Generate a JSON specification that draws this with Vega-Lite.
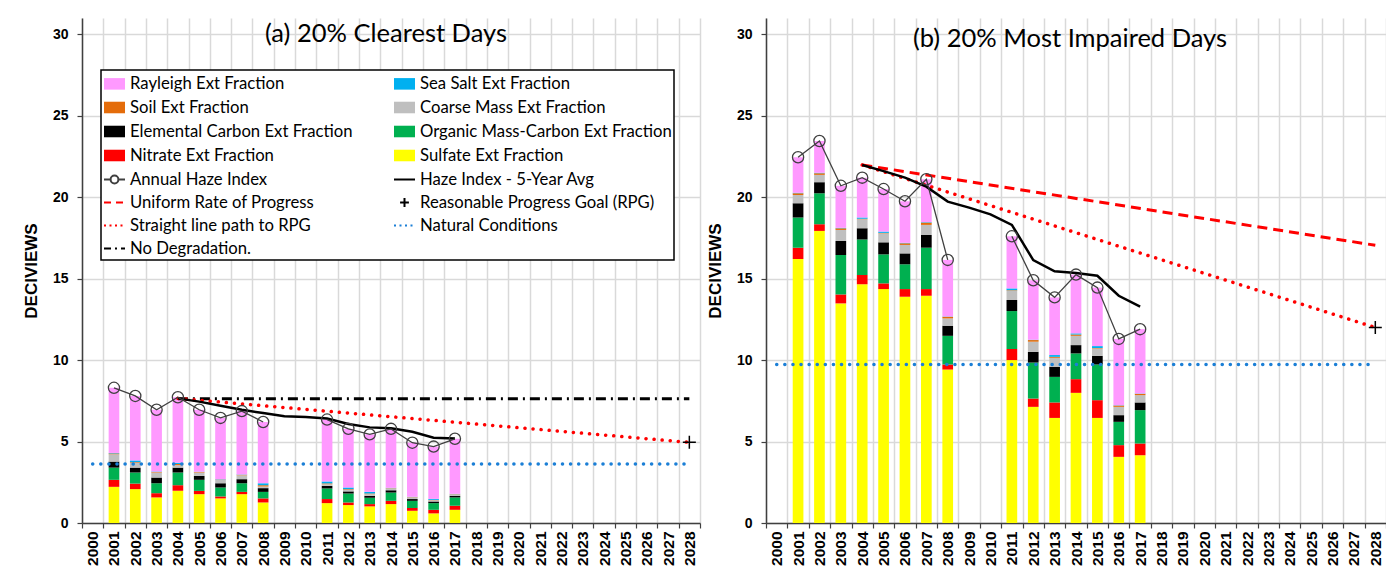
{
  "$schema": "https://vega.github.io/schema/vega-lite/v6.json",
  "padding": {"left": 22, "top": 18, "right": 0, "bottom": 0},
  "background": "white",
  "spacing": 5,
  "config": {
    "view": {"stroke": null},
    "legend": {"strokeWidth": 1.5},
    "title": {"font": "Lato", "fontSize": 25.5, "fontWeight": "normal", "color": "black", "anchor": "middle", "frame": "group"},
    "axisX": {"tickBand": "extent", "grid": true, "gridColor": "#D9D9D9", "gridWidth": 1.5, "labelAngle": -90, "labelFont": "Liberation Sans", "labelFontWeight": "bold", "labelFontSize": 15.5, "labelColor": "#000000", "labelPadding": 3, "labelOverlap": false, "labelBound": false, "tickSize": 5, "tickColor": "#404040", "tickWidth": 1.2, "domainColor": "#404040", "domainWidth": 1.5},
    "axisY": {"grid": true, "gridColor": "#D9D9D9", "gridWidth": 1.5, "labelFont": "Liberation Sans", "labelFontWeight": "bold", "labelFontSize": 14, "labelColor": "#000000", "labelPadding": 9, "tickSize": 5, "tickColor": "#404040", "tickWidth": 1.2, "domainColor": "#404040", "domainWidth": 1.5, "titleFont": "Liberation Sans", "titleFontSize": 17, "titleFontWeight": "bold", "titleColor": "#000000", "titlePadding": 12}
  },
  "datasets": {
    "bars_a": [
      {"year": "2001", "Sulfate Ext Fraction": 2.22, "Nitrate Ext Fraction": 0.43, "Organic Mass-Carbon Ext Fraction": 0.75, "Elemental Carbon Ext Fraction": 0.37, "Coarse Mass Ext Fraction": 0.45, "Soil Ext Fraction": 0.05, "Sea Salt Ext Fraction": 0.03, "Rayleigh Ext Fraction": 4.0},
      {"year": "2002", "Sulfate Ext Fraction": 2.08, "Nitrate Ext Fraction": 0.34, "Organic Mass-Carbon Ext Fraction": 0.68, "Elemental Carbon Ext Fraction": 0.30, "Coarse Mass Ext Fraction": 0.30, "Soil Ext Fraction": 0.04, "Sea Salt Ext Fraction": 0.10, "Rayleigh Ext Fraction": 3.96},
      {"year": "2003", "Sulfate Ext Fraction": 1.57, "Nitrate Ext Fraction": 0.26, "Organic Mass-Carbon Ext Fraction": 0.61, "Elemental Carbon Ext Fraction": 0.35, "Coarse Mass Ext Fraction": 0.31, "Soil Ext Fraction": 0.03, "Sea Salt Ext Fraction": 0.03, "Rayleigh Ext Fraction": 3.79},
      {"year": "2004", "Sulfate Ext Fraction": 1.98, "Nitrate Ext Fraction": 0.34, "Organic Mass-Carbon Ext Fraction": 0.78, "Elemental Carbon Ext Fraction": 0.30, "Coarse Mass Ext Fraction": 0.15, "Soil Ext Fraction": 0.07, "Sea Salt Ext Fraction": 0.08, "Rayleigh Ext Fraction": 4.02},
      {"year": "2005", "Sulfate Ext Fraction": 1.77, "Nitrate Ext Fraction": 0.20, "Organic Mass-Carbon Ext Fraction": 0.68, "Elemental Carbon Ext Fraction": 0.24, "Coarse Mass Ext Fraction": 0.21, "Soil Ext Fraction": 0.03, "Sea Salt Ext Fraction": 0.02, "Rayleigh Ext Fraction": 3.80},
      {"year": "2006", "Sulfate Ext Fraction": 1.51, "Nitrate Ext Fraction": 0.12, "Organic Mass-Carbon Ext Fraction": 0.55, "Elemental Carbon Ext Fraction": 0.26, "Coarse Mass Ext Fraction": 0.21, "Soil Ext Fraction": 0.02, "Sea Salt Ext Fraction": 0.02, "Rayleigh Ext Fraction": 3.76},
      {"year": "2007", "Sulfate Ext Fraction": 1.77, "Nitrate Ext Fraction": 0.14, "Organic Mass-Carbon Ext Fraction": 0.53, "Elemental Carbon Ext Fraction": 0.25, "Coarse Mass Ext Fraction": 0.24, "Soil Ext Fraction": 0.03, "Sea Salt Ext Fraction": 0.02, "Rayleigh Ext Fraction": 3.89},
      {"year": "2008", "Sulfate Ext Fraction": 1.26, "Nitrate Ext Fraction": 0.25, "Organic Mass-Carbon Ext Fraction": 0.40, "Elemental Carbon Ext Fraction": 0.23, "Coarse Mass Ext Fraction": 0.10, "Soil Ext Fraction": 0.08, "Sea Salt Ext Fraction": 0.12, "Rayleigh Ext Fraction": 3.76},
      {"year": "2011", "Sulfate Ext Fraction": 1.22, "Nitrate Ext Fraction": 0.25, "Organic Mass-Carbon Ext Fraction": 0.65, "Elemental Carbon Ext Fraction": 0.16, "Coarse Mass Ext Fraction": 0.10, "Soil Ext Fraction": 0.05, "Sea Salt Ext Fraction": 0.12, "Rayleigh Ext Fraction": 3.80},
      {"year": "2012", "Sulfate Ext Fraction": 1.10, "Nitrate Ext Fraction": 0.16, "Organic Mass-Carbon Ext Fraction": 0.55, "Elemental Carbon Ext Fraction": 0.13, "Coarse Mass Ext Fraction": 0.10, "Soil Ext Fraction": 0.04, "Sea Salt Ext Fraction": 0.10, "Rayleigh Ext Fraction": 3.60},
      {"year": "2013", "Sulfate Ext Fraction": 1.02, "Nitrate Ext Fraction": 0.14, "Organic Mass-Carbon Ext Fraction": 0.39, "Elemental Carbon Ext Fraction": 0.12, "Coarse Mass Ext Fraction": 0.10, "Soil Ext Fraction": 0.04, "Sea Salt Ext Fraction": 0.10, "Rayleigh Ext Fraction": 3.53},
      {"year": "2014", "Sulfate Ext Fraction": 1.16, "Nitrate Ext Fraction": 0.20, "Organic Mass-Carbon Ext Fraction": 0.51, "Elemental Carbon Ext Fraction": 0.14, "Coarse Mass Ext Fraction": 0.11, "Soil Ext Fraction": 0.02, "Sea Salt Ext Fraction": 0.02, "Rayleigh Ext Fraction": 3.62},
      {"year": "2015", "Sulfate Ext Fraction": 0.75, "Nitrate Ext Fraction": 0.17, "Organic Mass-Carbon Ext Fraction": 0.44, "Elemental Carbon Ext Fraction": 0.11, "Coarse Mass Ext Fraction": 0.10, "Soil Ext Fraction": 0.02, "Sea Salt Ext Fraction": 0.02, "Rayleigh Ext Fraction": 3.32},
      {"year": "2016", "Sulfate Ext Fraction": 0.59, "Nitrate Ext Fraction": 0.22, "Organic Mass-Carbon Ext Fraction": 0.41, "Elemental Carbon Ext Fraction": 0.10, "Coarse Mass Ext Fraction": 0.08, "Soil Ext Fraction": 0.02, "Sea Salt Ext Fraction": 0.06, "Rayleigh Ext Fraction": 3.21},
      {"year": "2017", "Sulfate Ext Fraction": 0.81, "Nitrate Ext Fraction": 0.25, "Organic Mass-Carbon Ext Fraction": 0.51, "Elemental Carbon Ext Fraction": 0.10, "Coarse Mass Ext Fraction": 0.08, "Soil Ext Fraction": 0.02, "Sea Salt Ext Fraction": 0.02, "Rayleigh Ext Fraction": 3.38}
    ],
    "bars_b": [
      {"year": "2001", "Sulfate Ext Fraction": 16.2, "Nitrate Ext Fraction": 0.70, "Organic Mass-Carbon Ext Fraction": 1.85, "Elemental Carbon Ext Fraction": 0.88, "Coarse Mass Ext Fraction": 0.51, "Soil Ext Fraction": 0.10, "Sea Salt Ext Fraction": 0.03, "Rayleigh Ext Fraction": 2.18},
      {"year": "2002", "Sulfate Ext Fraction": 17.93, "Nitrate Ext Fraction": 0.41, "Organic Mass-Carbon Ext Fraction": 1.90, "Elemental Carbon Ext Fraction": 0.68, "Coarse Mass Ext Fraction": 0.45, "Soil Ext Fraction": 0.10, "Sea Salt Ext Fraction": 0.03, "Rayleigh Ext Fraction": 1.95},
      {"year": "2003", "Sulfate Ext Fraction": 13.48, "Nitrate Ext Fraction": 0.55, "Organic Mass-Carbon Ext Fraction": 2.42, "Elemental Carbon Ext Fraction": 0.86, "Coarse Mass Ext Fraction": 0.68, "Soil Ext Fraction": 0.10, "Sea Salt Ext Fraction": 0.03, "Rayleigh Ext Fraction": 2.58},
      {"year": "2004", "Sulfate Ext Fraction": 14.65, "Nitrate Ext Fraction": 0.57, "Organic Mass-Carbon Ext Fraction": 2.19, "Elemental Carbon Ext Fraction": 0.68, "Coarse Mass Ext Fraction": 0.55, "Soil Ext Fraction": 0.04, "Sea Salt Ext Fraction": 0.07, "Rayleigh Ext Fraction": 2.45},
      {"year": "2005", "Sulfate Ext Fraction": 14.36, "Nitrate Ext Fraction": 0.35, "Organic Mass-Carbon Ext Fraction": 1.78, "Elemental Carbon Ext Fraction": 0.74, "Coarse Mass Ext Fraction": 0.55, "Soil Ext Fraction": 0.03, "Sea Salt Ext Fraction": 0.08, "Rayleigh Ext Fraction": 2.61},
      {"year": "2006", "Sulfate Ext Fraction": 13.89, "Nitrate Ext Fraction": 0.47, "Organic Mass-Carbon Ext Fraction": 1.52, "Elemental Carbon Ext Fraction": 0.67, "Coarse Mass Ext Fraction": 0.52, "Soil Ext Fraction": 0.10, "Sea Salt Ext Fraction": 0.03, "Rayleigh Ext Fraction": 2.55},
      {"year": "2007", "Sulfate Ext Fraction": 13.95, "Nitrate Ext Fraction": 0.41, "Organic Mass-Carbon Ext Fraction": 2.54, "Elemental Carbon Ext Fraction": 0.78, "Coarse Mass Ext Fraction": 0.62, "Soil Ext Fraction": 0.14, "Sea Salt Ext Fraction": 0.03, "Rayleigh Ext Fraction": 2.63},
      {"year": "2008", "Sulfate Ext Fraction": 9.42, "Nitrate Ext Fraction": 0.31, "Organic Mass-Carbon Ext Fraction": 1.76, "Elemental Carbon Ext Fraction": 0.62, "Coarse Mass Ext Fraction": 0.45, "Soil Ext Fraction": 0.10, "Sea Salt Ext Fraction": 0.02, "Rayleigh Ext Fraction": 3.47},
      {"year": "2011", "Sulfate Ext Fraction": 10.0, "Nitrate Ext Fraction": 0.68, "Organic Mass-Carbon Ext Fraction": 2.33, "Elemental Carbon Ext Fraction": 0.68, "Coarse Mass Ext Fraction": 0.57, "Soil Ext Fraction": 0.03, "Sea Salt Ext Fraction": 0.11, "Rayleigh Ext Fraction": 3.20},
      {"year": "2012", "Sulfate Ext Fraction": 7.13, "Nitrate Ext Fraction": 0.51, "Organic Mass-Carbon Ext Fraction": 2.21, "Elemental Carbon Ext Fraction": 0.66, "Coarse Mass Ext Fraction": 0.62, "Soil Ext Fraction": 0.10, "Sea Salt Ext Fraction": 0.02, "Rayleigh Ext Fraction": 3.65},
      {"year": "2013", "Sulfate Ext Fraction": 6.45, "Nitrate Ext Fraction": 0.95, "Organic Mass-Carbon Ext Fraction": 1.57, "Elemental Carbon Ext Fraction": 0.62, "Coarse Mass Ext Fraction": 0.55, "Soil Ext Fraction": 0.06, "Sea Salt Ext Fraction": 0.11, "Rayleigh Ext Fraction": 3.54},
      {"year": "2014", "Sulfate Ext Fraction": 7.99, "Nitrate Ext Fraction": 0.84, "Organic Mass-Carbon Ext Fraction": 1.58, "Elemental Carbon Ext Fraction": 0.51, "Coarse Mass Ext Fraction": 0.57, "Soil Ext Fraction": 0.08, "Sea Salt Ext Fraction": 0.07, "Rayleigh Ext Fraction": 3.61},
      {"year": "2015", "Sulfate Ext Fraction": 6.45, "Nitrate Ext Fraction": 1.09, "Organic Mass-Carbon Ext Fraction": 2.19, "Elemental Carbon Ext Fraction": 0.53, "Coarse Mass Ext Fraction": 0.45, "Soil Ext Fraction": 0.03, "Sea Salt Ext Fraction": 0.12, "Rayleigh Ext Fraction": 3.59},
      {"year": "2016", "Sulfate Ext Fraction": 4.06, "Nitrate Ext Fraction": 0.72, "Organic Mass-Carbon Ext Fraction": 1.43, "Elemental Carbon Ext Fraction": 0.41, "Coarse Mass Ext Fraction": 0.51, "Soil Ext Fraction": 0.08, "Sea Salt Ext Fraction": 0.02, "Rayleigh Ext Fraction": 4.07},
      {"year": "2017", "Sulfate Ext Fraction": 4.16, "Nitrate Ext Fraction": 0.72, "Organic Mass-Carbon Ext Fraction": 2.05, "Elemental Carbon Ext Fraction": 0.47, "Coarse Mass Ext Fraction": 0.45, "Soil Ext Fraction": 0.08, "Sea Salt Ext Fraction": 0.02, "Rayleigh Ext Fraction": 3.95}
    ],
    "haze_a": [
      {"year": "2001", "v": 8.3, "seg": 1}, {"year": "2002", "v": 7.8, "seg": 1}, {"year": "2003", "v": 6.95, "seg": 1}, {"year": "2004", "v": 7.72, "seg": 1},
      {"year": "2005", "v": 6.95, "seg": 1}, {"year": "2006", "v": 6.45, "seg": 1}, {"year": "2007", "v": 6.87, "seg": 1}, {"year": "2008", "v": 6.2, "seg": 1},
      {"year": "2011", "v": 6.35, "seg": 2}, {"year": "2012", "v": 5.78, "seg": 2}, {"year": "2013", "v": 5.44, "seg": 2}, {"year": "2014", "v": 5.78, "seg": 2},
      {"year": "2015", "v": 4.93, "seg": 2}, {"year": "2016", "v": 4.69, "seg": 2}, {"year": "2017", "v": 5.17, "seg": 2}
    ],
    "haze_b": [
      {"year": "2001", "v": 22.45, "seg": 1}, {"year": "2002", "v": 23.45, "seg": 1}, {"year": "2003", "v": 20.7, "seg": 1}, {"year": "2004", "v": 21.2, "seg": 1},
      {"year": "2005", "v": 20.5, "seg": 1}, {"year": "2006", "v": 19.75, "seg": 1}, {"year": "2007", "v": 21.1, "seg": 1}, {"year": "2008", "v": 16.15, "seg": 1},
      {"year": "2011", "v": 17.6, "seg": 2}, {"year": "2012", "v": 14.9, "seg": 2}, {"year": "2013", "v": 13.85, "seg": 2}, {"year": "2014", "v": 15.25, "seg": 2},
      {"year": "2015", "v": 14.45, "seg": 2}, {"year": "2016", "v": 11.3, "seg": 2}, {"year": "2017", "v": 11.9, "seg": 2}
    ],
    "avg_a": [
      {"year": "2004", "v": 7.65}, {"year": "2005", "v": 7.45}, {"year": "2006", "v": 7.2}, {"year": "2007", "v": 6.95}, {"year": "2008", "v": 6.75},
      {"year": "2009", "v": 6.55}, {"year": "2010", "v": 6.5}, {"year": "2011", "v": 6.42}, {"year": "2012", "v": 6.08}, {"year": "2013", "v": 5.87},
      {"year": "2014", "v": 5.82}, {"year": "2015", "v": 5.6}, {"year": "2016", "v": 5.24}, {"year": "2017", "v": 5.18}
    ],
    "avg_b": [
      {"year": "2004", "v": 21.98}, {"year": "2005", "v": 21.6}, {"year": "2006", "v": 21.2}, {"year": "2007", "v": 20.65}, {"year": "2008", "v": 19.73},
      {"year": "2009", "v": 19.36}, {"year": "2010", "v": 18.95}, {"year": "2011", "v": 18.3}, {"year": "2012", "v": 16.14}, {"year": "2013", "v": 15.45},
      {"year": "2014", "v": 15.35}, {"year": "2015", "v": 15.18}, {"year": "2016", "v": 13.95}, {"year": "2017", "v": 13.28}
    ],
    "refs_a": [
      {"s": "Straight line path to RPG", "year": "2004", "v": 7.65}, {"s": "Straight line path to RPG", "year": "2028", "v": 4.95},
      {"s": "Natural Conditions", "year": "2000", "v": 3.62}, {"s": "Natural Conditions", "year": "2028", "v": 3.62},
      {"s": "No Degradation.", "year": "2004", "v": 7.62}, {"s": "No Degradation.", "year": "2028", "v": 7.62},
      {"s": "Reasonable Progress Goal (RPG)", "year": "2028", "v": 4.95}
    ],
    "refs_b": [
      {"s": "Uniform Rate of Progress", "year": "2004", "v": 21.98}, {"s": "Uniform Rate of Progress", "year": "2028", "v": 17.05},
      {"s": "Straight line path to RPG", "year": "2004", "v": 21.98}, {"s": "Straight line path to RPG", "year": "2028", "v": 12.0},
      {"s": "Natural Conditions", "year": "2000", "v": 9.73}, {"s": "Natural Conditions", "year": "2028", "v": 9.73},
      {"s": "Reasonable Progress Goal (RPG)", "year": "2028", "v": 12.0}
    ]
  },
  "resolve": {"scale": {"color": "independent"}, "legend": {"color": "independent"}},
  "hconcat": [
    {
      "width": 618,
      "height": 505,
      "title": {"text": "(a) 20% Clearest Days", "offset": -29, "dx": -5},
      "layer": [
        {
          "data": {"name": "bars_a"},
          "transform": [{"fold": ["Sulfate Ext Fraction", "Nitrate Ext Fraction", "Organic Mass-Carbon Ext Fraction", "Elemental Carbon Ext Fraction", "Coarse Mass Ext Fraction", "Soil Ext Fraction", "Sea Salt Ext Fraction", "Rayleigh Ext Fraction"], "as": ["c", "v"]}],
          "mark": {"type": "bar", "width": {"band": 0.5}},
          "encoding": {
            "x": {"field": "year", "type": "ordinal", "title": null, "scale": {"domain": ["2000","2001","2002","2003","2004","2005","2006","2007","2008","2009","2010","2011","2012","2013","2014","2015","2016","2017","2018","2019","2020","2021","2022","2023","2024","2025","2026","2027","2028"], "paddingInner": 0, "paddingOuter": 0}},
            "y": {"field": "v", "type": "quantitative", "title": "DECIVIEWS", "scale": {"domain": [0, 31], "nice": false}, "axis": {"values": [0, 5, 10, 15, 20, 25, 30]}},
            "order": {"field": "color_c_sort_index", "type": "quantitative", "sort": "descending"},
            "color": {
              "field": "c", "type": "nominal",
              "sort": ["Rayleigh Ext Fraction", "Sea Salt Ext Fraction", "Soil Ext Fraction", "Coarse Mass Ext Fraction", "Elemental Carbon Ext Fraction", "Organic Mass-Carbon Ext Fraction", "Nitrate Ext Fraction", "Sulfate Ext Fraction", "Annual Haze Index", "Haze Index - 5-Year Avg", "Uniform Rate of Progress", "Reasonable Progress Goal (RPG)", "Straight line path to RPG", "Natural Conditions", "No Degradation."],
              "scale": {
                "domain": ["Rayleigh Ext Fraction", "Sea Salt Ext Fraction", "Soil Ext Fraction", "Coarse Mass Ext Fraction", "Elemental Carbon Ext Fraction", "Organic Mass-Carbon Ext Fraction", "Nitrate Ext Fraction", "Sulfate Ext Fraction", "Annual Haze Index", "Haze Index - 5-Year Avg", "Uniform Rate of Progress", "Reasonable Progress Goal (RPG)", "Straight line path to RPG", "Natural Conditions", "No Degradation."],
                "range": ["#FF99FF", "#00B0F0", "#E46C0A", "#BFBFBF", "#000000", "#00B050", "#FF0000", "#FFFF00", "transparent", "transparent", "transparent", "transparent", "transparent", "transparent", "transparent"]
              },
              "legend": {
                "orient": "none", "legendX": 19, "legendY": 52, "columns": 2, "direction": "horizontal", "title": null,
                "fillColor": "white", "strokeColor": "black", "padding": 2,
                "labelFont": "Lato", "labelFontSize": 16.7, "labelColor": "#000000", "labelLimit": 400, "labelOffset": 4,
                "symbolSize": 441, "rowPadding": 2, "columnPadding": 37, "symbolStrokeWidth": 2,
                "symbolType": {"expr": "datum.value === 'Annual Haze Index' ? 'M-1,0H-0.37M0.37,0H1M0.37,0A0.37,0.37 0 1,1 -0.37,0A0.37,0.37 0 1,1 0.37,0' : datum.value === 'Reasonable Progress Goal (RPG)' ? 'M0,-0.42V0.42M-0.42,0H0.42' : indexof(datum.value, 'Fraction') >= 0 ? 'M-1,-0.55H1V0.55H-1Z' : 'M-1,0H1'"},
                "symbolStrokeColor": {"expr": "indexof(datum.value, 'Fraction') >= 0 ? 'transparent' : datum.value === 'Natural Conditions' ? '#1B7FD6' : (datum.value === 'Uniform Rate of Progress' || datum.value === 'Straight line path to RPG') ? '#FF0000' : datum.value === 'Annual Haze Index' ? '#404040' : '#000000'"},
                "symbolDash": {"expr": "datum.value === 'Uniform Rate of Progress' ? [7, 5] : (datum.value === 'Straight line path to RPG' || datum.value === 'Natural Conditions') ? [2, 3.5] : datum.value === 'No Degradation.' ? [7, 4, 2, 4] : []"}
              }
            }
          }
        },
        {
          "data": {"name": "refs_a"},
          "transform": [{"filter": "datum.s === 'Natural Conditions'"}],
          "mark": {"type": "line", "color": "#1B7FD6", "strokeWidth": 3.5, "strokeDash": [0.1, 8], "strokeCap": "round"},
          "encoding": {"x": {"field": "year", "type": "ordinal", "title": null}, "y": {"field": "v", "type": "quantitative", "title": "DECIVIEWS"}}
        },
        {
          "data": {"name": "refs_a"},
          "transform": [{"filter": "datum.s === 'No Degradation.'"}],
          "mark": {"type": "line", "color": "#000000", "strokeWidth": 3, "strokeDash": [10, 5, 2, 5]},
          "encoding": {"x": {"field": "year", "type": "ordinal", "title": null}, "y": {"field": "v", "type": "quantitative", "title": "DECIVIEWS"}}
        },
        {
          "data": {"name": "refs_a"},
          "transform": [{"filter": "datum.s === 'Straight line path to RPG'"}],
          "mark": {"type": "line", "color": "#FF0000", "strokeWidth": 3.5, "strokeDash": [0.1, 8], "strokeCap": "round"},
          "encoding": {"x": {"field": "year", "type": "ordinal", "title": null}, "y": {"field": "v", "type": "quantitative", "title": "DECIVIEWS"}}
        },
        {
          "data": {"name": "avg_a"},
          "mark": {"type": "line", "color": "#000000", "strokeWidth": 2.5},
          "encoding": {"x": {"field": "year", "type": "ordinal", "title": null}, "y": {"field": "v", "type": "quantitative", "title": "DECIVIEWS"}}
        },
        {
          "data": {"name": "haze_a"},
          "mark": {"type": "line", "color": "#404040", "strokeWidth": 1.3},
          "encoding": {"x": {"field": "year", "type": "ordinal", "title": null}, "y": {"field": "v", "type": "quantitative", "title": "DECIVIEWS"}, "detail": {"field": "seg", "type": "nominal"}}
        },
        {
          "data": {"name": "haze_a"},
          "mark": {"type": "point", "filled": false, "size": 125, "color": "#404040", "strokeWidth": 1.3, "opacity": 1},
          "encoding": {"x": {"field": "year", "type": "ordinal", "title": null}, "y": {"field": "v", "type": "quantitative", "title": "DECIVIEWS"}}
        },
        {
          "data": {"name": "refs_a"},
          "transform": [{"filter": "datum.s === 'Reasonable Progress Goal (RPG)'"}],
          "mark": {"type": "point", "shape": "M0,-1V1M-1,0H1", "filled": false, "size": 169, "color": "#000000", "strokeWidth": 1.5, "opacity": 1},
          "encoding": {"x": {"field": "year", "type": "ordinal", "title": null}, "y": {"field": "v", "type": "quantitative", "title": "DECIVIEWS"}}
        }
      ]
    },
    {
      "width": 620,
      "height": 505,
      "title": {"text": "(b) 20% Most Impaired Days", "offset": -34, "dx": -6},
      "layer": [
        {
          "data": {"name": "bars_b"},
          "transform": [{"fold": ["Sulfate Ext Fraction", "Nitrate Ext Fraction", "Organic Mass-Carbon Ext Fraction", "Elemental Carbon Ext Fraction", "Coarse Mass Ext Fraction", "Soil Ext Fraction", "Sea Salt Ext Fraction", "Rayleigh Ext Fraction"], "as": ["c", "v"]}],
          "mark": {"type": "bar", "width": {"band": 0.5}},
          "encoding": {
            "x": {"field": "year", "type": "ordinal", "title": null, "scale": {"domain": ["2000","2001","2002","2003","2004","2005","2006","2007","2008","2009","2010","2011","2012","2013","2014","2015","2016","2017","2018","2019","2020","2021","2022","2023","2024","2025","2026","2027","2028"], "paddingInner": 0, "paddingOuter": 0}},
            "y": {"field": "v", "type": "quantitative", "title": "DECIVIEWS", "scale": {"domain": [0, 31], "nice": false}, "axis": {"values": [0, 5, 10, 15, 20, 25, 30]}},
            "order": {"field": "color_c_sort_index", "type": "quantitative", "sort": "descending"},
            "color": {
              "field": "c", "type": "nominal",
              "sort": ["Rayleigh Ext Fraction", "Sea Salt Ext Fraction", "Soil Ext Fraction", "Coarse Mass Ext Fraction", "Elemental Carbon Ext Fraction", "Organic Mass-Carbon Ext Fraction", "Nitrate Ext Fraction", "Sulfate Ext Fraction"],
              "scale": {
                "domain": ["Rayleigh Ext Fraction", "Sea Salt Ext Fraction", "Soil Ext Fraction", "Coarse Mass Ext Fraction", "Elemental Carbon Ext Fraction", "Organic Mass-Carbon Ext Fraction", "Nitrate Ext Fraction", "Sulfate Ext Fraction"],
                "range": ["#FF99FF", "#00B0F0", "#E46C0A", "#BFBFBF", "#000000", "#00B050", "#FF0000", "#FFFF00"]
              },
              "legend": null
            }
          }
        },
        {
          "data": {"name": "refs_b"},
          "transform": [{"filter": "datum.s === 'Natural Conditions'"}],
          "mark": {"type": "line", "color": "#1B7FD6", "strokeWidth": 3.5, "strokeDash": [0.1, 8], "strokeCap": "round"},
          "encoding": {"x": {"field": "year", "type": "ordinal", "title": null}, "y": {"field": "v", "type": "quantitative", "title": "DECIVIEWS"}}
        },
        {
          "data": {"name": "refs_b"},
          "transform": [{"filter": "datum.s === 'Uniform Rate of Progress'"}],
          "mark": {"type": "line", "color": "#FF0000", "strokeWidth": 3, "strokeDash": [10, 6]},
          "encoding": {"x": {"field": "year", "type": "ordinal", "title": null}, "y": {"field": "v", "type": "quantitative", "title": "DECIVIEWS"}}
        },
        {
          "data": {"name": "refs_b"},
          "transform": [{"filter": "datum.s === 'Straight line path to RPG'"}],
          "mark": {"type": "line", "color": "#FF0000", "strokeWidth": 3.5, "strokeDash": [0.1, 8], "strokeCap": "round"},
          "encoding": {"x": {"field": "year", "type": "ordinal", "title": null}, "y": {"field": "v", "type": "quantitative", "title": "DECIVIEWS"}}
        },
        {
          "data": {"name": "avg_b"},
          "mark": {"type": "line", "color": "#000000", "strokeWidth": 2.5},
          "encoding": {"x": {"field": "year", "type": "ordinal", "title": null}, "y": {"field": "v", "type": "quantitative", "title": "DECIVIEWS"}}
        },
        {
          "data": {"name": "haze_b"},
          "mark": {"type": "line", "color": "#404040", "strokeWidth": 1.3},
          "encoding": {"x": {"field": "year", "type": "ordinal", "title": null}, "y": {"field": "v", "type": "quantitative", "title": "DECIVIEWS"}, "detail": {"field": "seg", "type": "nominal"}}
        },
        {
          "data": {"name": "haze_b"},
          "mark": {"type": "point", "filled": false, "size": 125, "color": "#404040", "strokeWidth": 1.3, "opacity": 1},
          "encoding": {"x": {"field": "year", "type": "ordinal", "title": null}, "y": {"field": "v", "type": "quantitative", "title": "DECIVIEWS"}}
        },
        {
          "data": {"name": "refs_b"},
          "transform": [{"filter": "datum.s === 'Reasonable Progress Goal (RPG)'"}],
          "mark": {"type": "point", "shape": "M0,-1V1M-1,0H1", "filled": false, "size": 169, "color": "#000000", "strokeWidth": 1.5, "opacity": 1},
          "encoding": {"x": {"field": "year", "type": "ordinal", "title": null}, "y": {"field": "v", "type": "quantitative", "title": "DECIVIEWS"}}
        }
      ]
    }
  ]
}
